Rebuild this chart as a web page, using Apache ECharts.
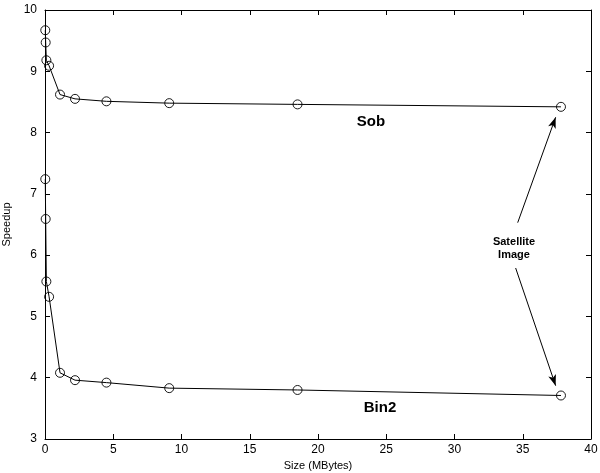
<!DOCTYPE html>
<html><head><meta charset="utf-8">
<script src="https://cdn.jsdelivr.net/npm/echarts@6/dist/echarts.min.js"></script>
<style>html,body{margin:0;padding:0;background:#fff}#c{width:600px;height:473px}</style>
</head><body><div id="c"></div>
<script>
const sizes = [0.02, 0.05, 0.1, 0.3, 1.1, 2.2, 4.5, 9.1, 18.5, 37.8];
const sobSpeedup = [9.67, 9.47, 9.18, 9.09, 8.62, 8.55, 8.51, 8.48, 8.46, 8.42];
const bin2Speedup = [7.24, 6.59, 5.57, 5.32, 4.08, 3.96, 3.92, 3.83, 3.80, 3.71];
const xTicks = [0, 5, 10, 15, 20, 25, 30, 35, 40];
const yTicks = [3, 4, 5, 6, 7, 8, 9, 10];
const arrows = [[[34.63, 6.53], [37.41, 8.25]], [[34.48, 5.79], [37.41, 3.87]]];

const font = 'Liberation Sans, Arial, Helvetica, sans-serif';
const chart = echarts.init(document.getElementById('c'));
const axisCommon = {
  axisLine: {show: true, onZero: false, lineStyle: {color: '#000', width: 1}},
  axisTick: {show: true, inside: true, length: 5, lineStyle: {color: '#000'}},
  splitLine: {show: false}
};
const lineSeries = (name, ys) => ({
  name, type: 'line', xAxisIndex: 0, yAxisIndex: 0,
  data: sizes.map((x, i) => [x, ys[i]]),
  symbol: 'circle', symbolSize: 9,
  lineStyle: {color: '#000', width: 1},
  itemStyle: {color: 'rgba(255,255,255,0)', borderColor: '#000', borderWidth: 0.9},
  emphasis: {disabled: true},
  animation: false
});
chart.setOption({
  animation: false,
  grid: {left: 45, right: 9, top: 10, bottom: 34, outerBoundsMode: 'none', containLabel: false},
  xAxis: [
    Object.assign({type: 'value', min: xTicks[0], max: xTicks[xTicks.length-1], interval: 5, position: 'bottom',
      name: 'Size (MBytes)', nameLocation: 'middle', nameGap: 21,
      nameTextStyle: {fontFamily: font, fontSize: 11, color: '#000'},
      axisLabel: {fontFamily: font, fontSize: 12, color: '#000', margin: 5}}, axisCommon),
    Object.assign({type: 'value', min: 0, max: 40, interval: 5, position: 'top', axisLabel: {show: false}}, axisCommon)
  ],
  yAxis: [
    Object.assign({type: 'value', min: yTicks[0], max: yTicks[yTicks.length-1], interval: 1, position: 'left',
      name: 'Speedup', nameLocation: 'middle', nameGap: 26, nameRotate: 90,
      nameTextStyle: {fontFamily: font, fontSize: 11, color: '#000'},
      axisLabel: {fontFamily: font, fontSize: 12, color: '#000', margin: 8}}, axisCommon),
    Object.assign({type: 'value', min: 3, max: 10, interval: 1, position: 'right', axisLabel: {show: false}}, axisCommon)
  ],
  series: [
    lineSeries('Sob', sobSpeedup),
    lineSeries('Bin2', bin2Speedup),
    {
      type: 'line', data: [], xAxisIndex: 0, yAxisIndex: 0, silent: true,
      markLine: {
        silent: true, symbol: ['none', 'arrow'], symbolSize: [6, 11],
        label: {show: false},
        lineStyle: {color: '#000', width: 1, type: 'solid'},
        emphasis: {disabled: true},
        data: arrows.map(a => [{coord: a[0]}, {coord: a[1]}]),
        animation: false
      }
    }
  ],
  graphic: [
    {type: 'text', x: 371, y: 122, style: {text: 'Sob', font: 'bold 15px ' + font, fill: '#000', textAlign: 'center', textVerticalAlign: 'middle'}},
    {type: 'text', x: 380, y: 408, style: {text: 'Bin2', font: 'bold 15px ' + font, fill: '#000', textAlign: 'center', textVerticalAlign: 'middle'}},
    {type: 'text', x: 514, y: 248, style: {text: 'Satellite\nImage', font: 'bold 11px ' + font, lineHeight: 13, fill: '#000', textAlign: 'center', textVerticalAlign: 'middle'}}
  ]
});
</script></body></html>
